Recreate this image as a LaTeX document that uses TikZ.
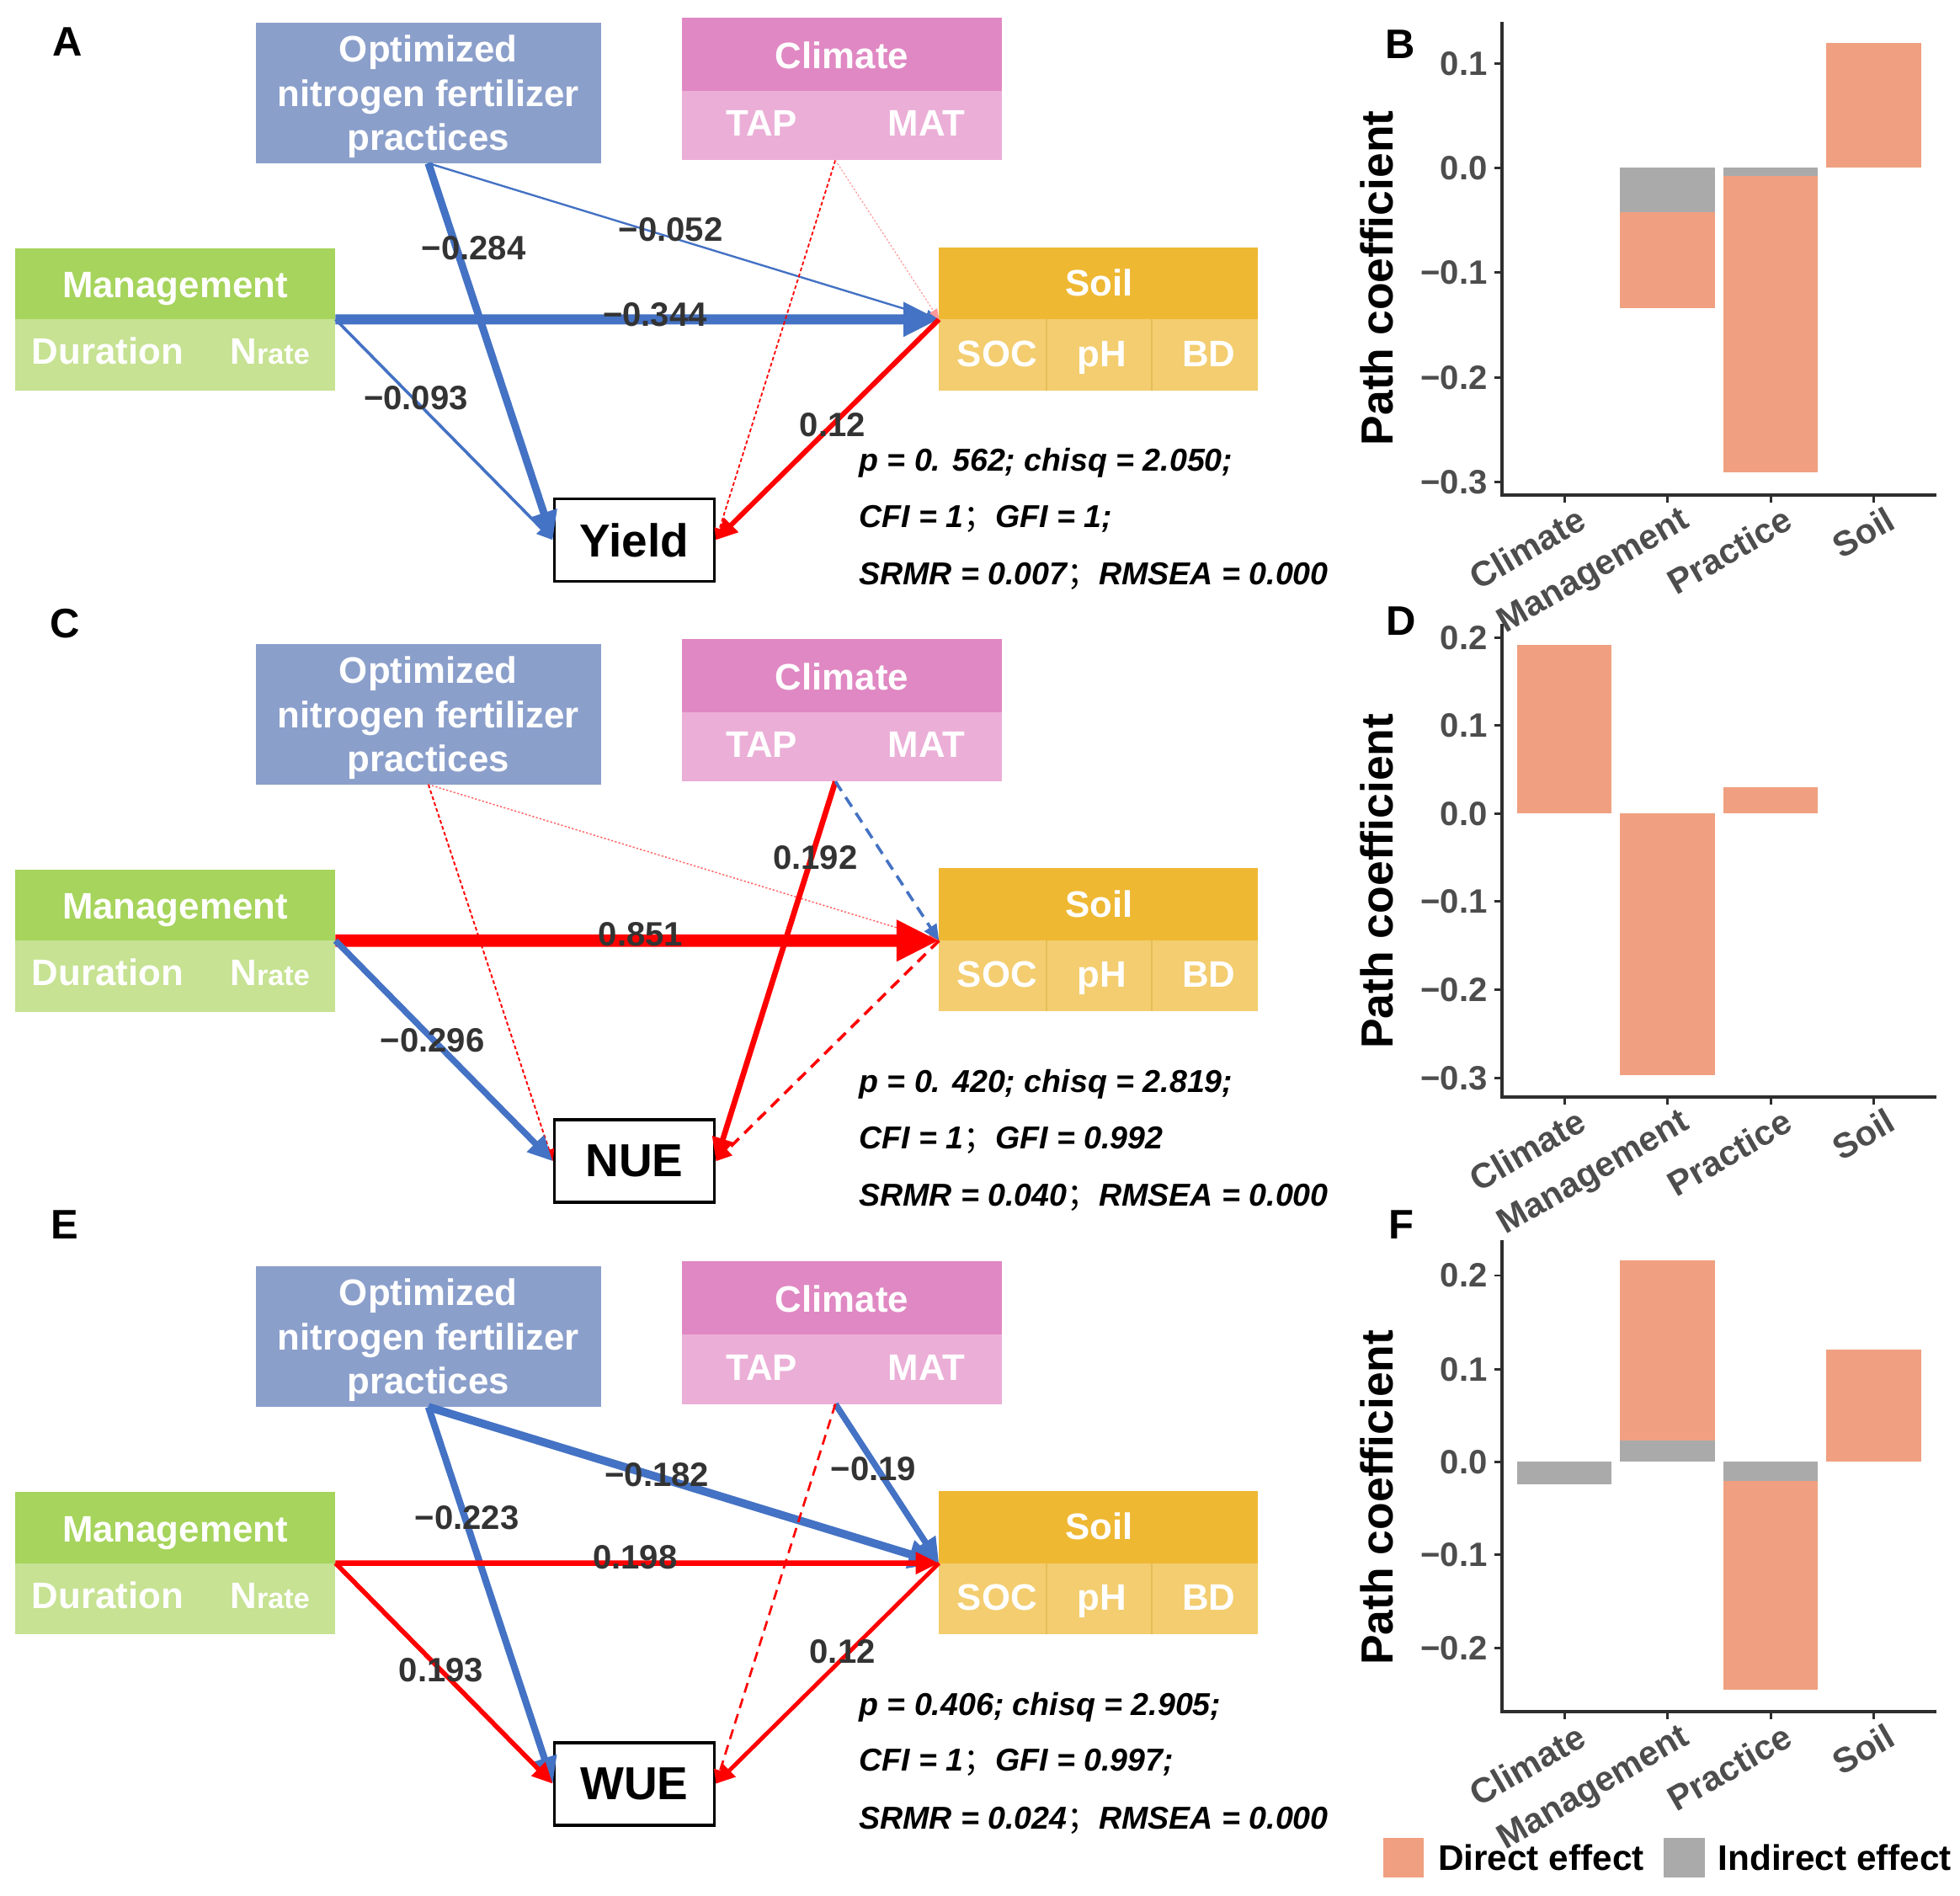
\documentclass[tikz,border=0pt]{standalone}
\usepackage{fontspec}
\setmainfont{Liberation Sans}
\newfontfamily\cjk{Noto Sans CJK SC}
\usetikzlibrary{arrows.meta}
\definecolor{optc}{HTML}{8B9FCB}
\definecolor{climtc}{HTML}{E088C3}
\definecolor{climbc}{HTML}{EBAED7}
\definecolor{mgtc}{HTML}{A6D45C}
\definecolor{mgbc}{HTML}{C6E292}
\definecolor{soiltc}{HTML}{EFB833}
\definecolor{soilbc}{HTML}{F3CD6F}
\definecolor{divc}{HTML}{E6BD58}
\definecolor{arrblue}{HTML}{4472C4}
\definecolor{arrred}{HTML}{FF0000}
\definecolor{labc}{HTML}{333333}
\definecolor{tickc}{HTML}{4D4D4D}
\definecolor{barorange}{HTML}{F0A080}
\definecolor{bargrey}{HTML}{AAAAAA}
\definecolor{axisc}{HTML}{2E2E2E}
\tikzset{
  fbox/.style={rectangle, inner sep=0pt, outer sep=0pt, anchor=north west, draw=none},
  wtxt/.style={text=white, font=\fontsize{29.5}{34}\selectfont\bfseries, inner sep=0pt, anchor=base},
  outbox/.style={rectangle, draw=black, line width=2.5pt, fill=white, minimum width=128pt,
    minimum height=66pt, inner sep=0pt, font=\fontsize{37}{40}\selectfont\bfseries},
  coef/.style={text=labc, font=\fontsize{27}{30}\selectfont\bfseries, inner sep=0pt},
  stat/.style={font=\fontsize{25.3}{30}\selectfont\bfseries\itshape, anchor=base west, inner sep=0pt},
  pa/.style={line width=#1, -{Triangle[length=6pt 2.8, width=5pt 2.6]}},
  plab/.style={font=\fontsize{33}{36}\selectfont\bfseries, inner sep=0pt},
  ticklab/.style={text=tickc, font=\fontsize{27}{30}\selectfont\bfseries, inner sep=0pt, anchor=east},
  xlab/.style={text=tickc, font=\fontsize{28}{30}\selectfont\bfseries, inner sep=0pt, anchor=north east, rotate=30},
  ytitle/.style={font=\fontsize{36}{40}\selectfont\bfseries, inner sep=0pt, rotate=90},
  legtxt/.style={font=\fontsize{28.5}{32}\selectfont\bfseries, inner sep=0pt, anchor=west},
  axl/.style={draw=axisc, line width=2.4pt},
}
\newcommand\semi{{\cjk\mdseries ；}}
\newcommand\sempanel[3]{%
\begin{scope}[shift={(0,#2)}]
  \node[fbox, fill=optc, minimum width=276pt, minimum height=112.6pt] (#1opt) at (204.7,18) {};
  \node[wtxt] (#1oa) at (342.7,49.6) {Optimized};
  \node[wtxt] (#1ob) at (342.7,85.2) {nitrogen fertilizer};
  \node[wtxt] (#1oc) at (342.7,120.3) {practices};
  \node[fbox, fill=climtc, minimum width=256pt, minimum height=58.8pt] (#1clt) at (545.3,14) {};
  \node[fbox, fill=climbc, minimum width=256pt, minimum height=55.4pt] (#1clb) at (545.3,72.8) {};
  \node[wtxt] (#1clx) at (673.5,54.7) {Climate};
  \node[wtxt] (#1tap) at (609.5,109) {TAP};
  \node[wtxt] (#1mat) at (741.2,109) {MAT};
  \node[fbox, fill=mgtc, minimum width=256.4pt, minimum height=57pt] (#1mgt) at (12,198.5) {};
  \node[fbox, fill=mgbc, minimum width=256.4pt, minimum height=57pt] (#1mgb) at (12,255.5) {};
  \node[wtxt] (#1mgx) at (140,238.3) {Management};
  \node[wtxt] (#1dur) at (86.2,291.6) {Duration};
  \node[wtxt] (#1nr) at (216,291.6) {N{\fontsize{23}{26}\selectfont rate}};
  \node[fbox, fill=soiltc, minimum width=255.3pt, minimum height=57.8pt] (#1soilt) at (751.2,197.7) {};
  \node[fbox, fill=soilbc, minimum width=255.3pt, minimum height=56.7pt] (#1soilb) at (751.2,255.5) {};
  \draw[divc, line width=1pt] (837.2,255.5) -- (837.2,312.2);
  \draw[divc, line width=1pt] (921.4,255.5) -- (921.4,312.2);
  \node[wtxt] (#1sx) at (879.2,236.5) {Soil};
  \node[wtxt] (#1soc) at (797.7,293) {SOC};
  \node[wtxt] (#1ph) at (881.6,293) {pH};
  \node[wtxt] (#1bd) at (967,293) {BD};
  \node[outbox] (#1out) at (507.5,432) {#3};
  \coordinate (#1cs) at ([xshift=-5pt]#1clb.south);
\end{scope}}
\begin{document}
\begin{tikzpicture}[x=1pt,y=-1pt]
\useasboundingbox (0,0) rectangle (1568,1516.8);
\fill[white] (0,0) rectangle (1568,1516.8);

% ---------------- panels A, C, E ----------------
\sempanel{a}{0}{Yield}
\sempanel{c}{497}{NUE}
\sempanel{e}{995}{WUE}

% Panel A connectors
\draw[pa=6pt, arrblue] (aopt.south) -- (aout.west);
\draw[pa=1.6pt, arrblue] (aopt.south) -- (asoilt.south west);
\draw[pa=8pt, arrblue] (amgt.south east) -- (asoilt.south west);
\draw[pa=2.4pt, arrblue] (amgt.south east) -- (aout.west);
\draw[pa=4pt, arrred] (asoilt.south west) -- (aout.east);
\draw[pa=1.2pt, arrred, dash pattern=on 3pt off 2pt] (acs) -- (aout.east);
\draw[pa=0.8pt, arrred!40, dash pattern=on 1.5pt off 1.5pt] (acs) -- (asoilt.south west);
\node[coef] (la1) at (379,198.7) {−0.284};
\node[coef] (la2) at (536.5,183.4) {−0.052};
\node[coef] (la3) at (524,252) {−0.344};
\node[coef] (la4) at (332.7,318.4) {−0.093};
\node[coef] (la5) at (666,340) {0.12};
\node[stat] (sa1) at (687,377) {p = 0. 562; chisq = 2.050;};
\node[stat] (sa2) at (687,422) {CFI = 1\semi GFI = 1;};
\node[stat] (sa3) at (687,468) {SRMR = 0.007\semi RMSEA = 0.000};

% Panel C connectors
\draw[pa=1.3pt, arrred, dash pattern=on 3pt off 2pt] (copt.south) -- (cout.west);
\draw[pa=1pt, arrred!60, dash pattern=on 1.5pt off 1.5pt] (copt.south) -- (csoilt.south west);
\draw[pa=10pt, arrred] (cmgt.south east) -- (csoilt.south west);
\draw[pa=5pt, arrblue] (cmgt.south east) -- (cout.west);
\draw[pa=4.5pt, arrred] (ccs) -- (cout.east);
\draw[pa=2.4pt, arrblue, dash pattern=on 9pt off 6pt] (ccs) -- (csoilt.south west);
\draw[pa=2.4pt, arrred, dash pattern=on 9pt off 6pt] (csoilt.south west) -- (cout.east);
\node[coef] (lc1) at (512.5,747.6) {0.851};
\node[coef] (lc2) at (346,832) {−0.296};
\node[coef] (lc3) at (652.2,686.3) {0.192};
\node[stat] (sc1) at (687,874) {p = 0. 420; chisq = 2.819;};
\node[stat] (sc2) at (687,919) {CFI = 1\semi GFI = 0.992};
\node[stat] (sc3) at (687,965) {SRMR = 0.040\semi RMSEA = 0.000};

% Panel E connectors
\draw[pa=5.5pt, arrblue] (eopt.south) -- (eout.west);
\draw[pa=6.5pt, arrblue] (eopt.south) -- (esoilt.south west);
\draw[pa=4.5pt, arrred] (emgt.south east) -- (esoilt.south west);
\draw[pa=3.8pt, arrred] (emgt.south east) -- (eout.west);
\draw[pa=5pt, arrblue] (ecs) -- (esoilt.south west);
\draw[pa=1.8pt, arrred, dash pattern=on 8pt off 5pt] (ecs) -- (eout.east);
\draw[pa=3.3pt, arrred] (esoilt.south west) -- (eout.east);
\node[coef] (le1) at (373.5,1214) {−0.223};
\node[coef] (le2) at (525.6,1180) {−0.182};
\node[coef] (le3) at (508,1246) {0.198};
\node[coef] (le4) at (353,1336) {0.193};
\node[coef] (le5) at (698.8,1174.8) {−0.19};
\node[coef] (le6) at (674,1321) {0.12};
\node[stat] (se1) at (687,1372) {p = 0.406; chisq = 2.905;};
\node[stat] (se2) at (687,1417) {CFI = 1\semi GFI = 0.997;};
\node[stat] (se3) at (687,1463) {SRMR = 0.024\semi RMSEA = 0.000};

% panel letters
\node[plab] (lA) at (54.2,33.5) {A};
\node[plab] (lC) at (52,499) {C};
\node[plab] (lE) at (52,980) {E};
\node[plab] (lB) at (1120.4,35.3) {B};
\node[plab] (lD) at (1121,497) {D};
\node[plab] (lF) at (1121,980) {F};

% ---------------- chart B ----------------
\fill[bargrey] (1296.2,134.3) rectangle (1371.7,169.5);
\fill[barorange] (1296.2,169.5) rectangle (1371.7,246.5);
\fill[bargrey] (1378.7,134.3) rectangle (1454.2,140.7);
\fill[barorange] (1378.7,140.7) rectangle (1454.2,377.9);
\fill[barorange] (1461.2,34.3) rectangle (1536.7,134.3);
\draw[axl] (1201.7,17.7) -- (1201.7,395.9) -- (1548.8,395.9);
\foreach \v/\y [count=\i] in {0.1/50.8, 0.0/134.3, −0.1/217.9, −0.2/302, −0.3/385.6} {
  \draw[axl, line width=2pt] (1195.5,\y) -- (1201.7,\y);
  \node[ticklab] (bt\i) at (1190,\y) {\v};
}
\foreach \x/\t [count=\i] in {1251.5/Climate, 1334/Management, 1416.5/Practice, 1499/Soil} {
  \draw[axl, line width=2pt] (\x,395.9) -- (\x,402);
  \node[xlab] (bx\i) at (\x+9,404) {\t};
}
\node[ytitle] (byt) at (1101.5,222.5) {Path coefficient};

% ---------------- chart D ----------------
\fill[barorange] (1213.7,515.8) rectangle (1289.2,650.8);
\fill[barorange] (1296.2,650.8) rectangle (1371.7,860);
\fill[barorange] (1378.7,629.6) rectangle (1454.2,650.8);
\draw[axl] (1201.7,499.2) -- (1201.7,877.5) -- (1548.8,877.5);
\foreach \v/\y [count=\i] in {0.2/510.4, 0.1/580.3, 0.0/650.8, −0.1/721.1, −0.2/791.7, −0.3/862.3} {
  \draw[axl, line width=2pt] (1195.5,\y) -- (1201.7,\y);
  \node[ticklab] (dt\i) at (1190,\y) {\v};
}
\foreach \x/\t [count=\i] in {1251.5/Climate, 1334/Management, 1416.5/Practice, 1499/Soil} {
  \draw[axl, line width=2pt] (\x,877.5) -- (\x,883.6);
  \node[xlab] (dx\i) at (\x+9,885.5) {\t};
}
\node[ytitle] (dyt) at (1101.6,705) {Path coefficient};

% ---------------- chart F ----------------
\fill[bargrey] (1213.7,1169.5) rectangle (1289.2,1187.4);
\fill[bargrey] (1296.2,1152.4) rectangle (1371.7,1169.5);
\fill[barorange] (1296.2,1008.3) rectangle (1371.7,1152.4);
\fill[bargrey] (1378.7,1169.5) rectangle (1454.2,1185);
\fill[barorange] (1378.7,1185) rectangle (1454.2,1352.1);
\fill[barorange] (1461.2,1080) rectangle (1536.7,1169.5);
\draw[axl] (1201.7,992) -- (1201.7,1369.4) -- (1548.8,1369.4);
\foreach \v/\y [count=\i] in {0.2/1020.4, 0.1/1095.5, 0.0/1169.5, −0.1/1243.6, −0.2/1318.4} {
  \draw[axl, line width=2pt] (1195.5,\y) -- (1201.7,\y);
  \node[ticklab] (ft\i) at (1190,\y) {\v};
}
\foreach \x/\t [count=\i] in {1251.5/Climate, 1334/Management, 1416.5/Practice, 1499/Soil} {
  \draw[axl, line width=2pt] (\x,1369.4) -- (\x,1375.5);
  \node[xlab] (fx\i) at (\x+9,1377.5) {\t};
}
\node[ytitle] (fyt) at (1101.6,1198) {Path coefficient};

% legend
\fill[barorange] (1106.8,1470) rectangle (1139.2,1502);
\node[legtxt] (lg1) at (1150.3,1486) {Direct effect};
\fill[bargrey] (1330.7,1470) rectangle (1364.1,1502);
\node[legtxt] (lg2) at (1374.2,1486) {Indirect effect};
\end{tikzpicture}
\end{document}
